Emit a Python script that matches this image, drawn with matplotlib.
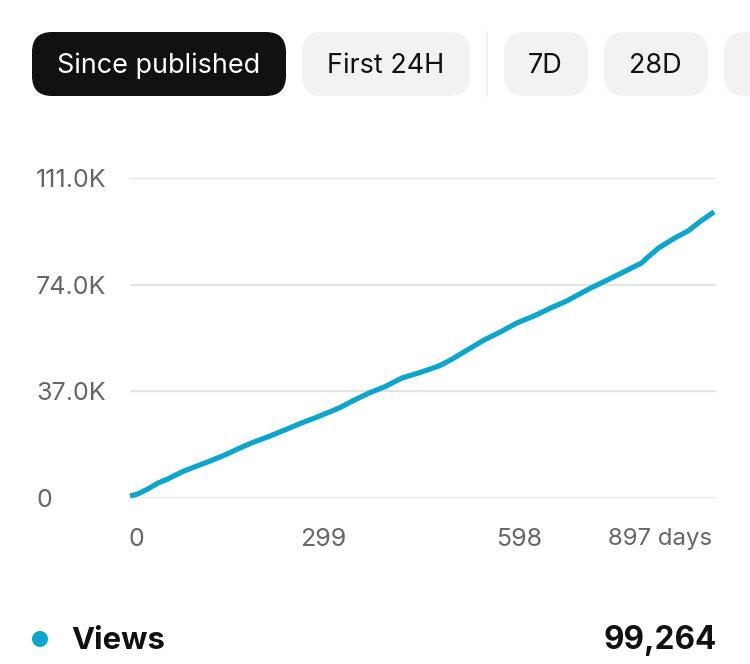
import matplotlib
matplotlib.use("Agg")
import matplotlib.pyplot as plt
from matplotlib.patches import FancyBboxPatch, Circle
from matplotlib.transforms import ScaledTranslation

# ---- data ----
days = [0, 12, 27, 43, 58, 79, 99, 119, 145, 165, 186, 211, 237, 259, 290, 320, 340, 366, 392, 416,
        442, 473, 491, 516, 542, 567, 592, 618, 644, 668, 705, 728, 752, 783, 793, 809, 834, 854, 874, 894]
views_k = [0.7, 1.4, 3.1, 5.2, 6.6, 9.0, 10.8, 12.5, 14.9, 17.0, 19.1, 21.2, 23.6, 25.7, 28.4, 31.2, 33.6, 36.4, 38.8, 41.6,
           43.4, 45.8, 47.9, 51.3, 54.8, 57.6, 60.7, 63.1, 65.9, 68.3, 72.8, 75.3, 78.0, 81.5, 83.6, 86.7, 90.2, 92.6, 96.1, 99.264]
y_ticks = [0, 37, 74, 111]
y_labels = ["0", "37.0K", "74.0K", "111.0K"]
x_ticks = [0, 299, 598, 897]
x_labels = ["0", "299", "598", "897 days"]
tabs = ["Since published", "First 24H", "7D", "28D", ""]
series_name = "Views"
series_total = "99,264"

W, H = 750, 664
ACCENT = "#0ea5cc"
GREY = "#666666"
INK = "#111111"
plt.rcParams["font.family"] = ["Inter", "DejaVu Sans"]
px = 72 / 100  # points per pixel

fig = plt.figure(figsize=(W / 100, H / 100), dpi=100, facecolor="white")

# chrome layer, in pixel coordinates
bg = fig.add_axes([0, 0, 1, 1])
bg.set_xlim(0, W)
bg.set_ylim(H, 0)
bg.axis("off")

tab_boxes = [(32, 286), (302, 470), (504, 588), (604, 708), (724, 790)]
for i, (label, (x0, x1)) in enumerate(zip(tabs, tab_boxes)):
    active = i == 0
    bg.add_patch(FancyBboxPatch((x0 + 20, 52), x1 - x0 - 40, 24,
                                boxstyle="round,pad=20,rounding_size=20",
                                fc=INK if active else "#f2f2f2", ec="none", clip_on=True))
    if label:
        bg.text((x0 + x1) / 2 - 0.5, 66, label, ha="center", va="center",
                fontsize=27 * px, color="white" if active else INK)
bg.plot([487, 487], [32, 96], color="#ececec", lw=1.5 * px)

bg.add_patch(Circle((40, 639), 8, fc=ACCENT, ec="none"))
bg.text(71.5, 641, series_name, ha="left", va="center", fontsize=31 * px,
        fontweight="bold", color=INK)
bg.text(717, 641, series_total, ha="right", va="center", fontsize=31.5 * px,
        fontweight="bold", color=INK)

# plot
left, right, top, bottom = 130, 716, 178, 498
ax = fig.add_axes([left / W, 1 - bottom / H, (right - left) / W, (bottom - top) / H])
ax.patch.set_alpha(0)
ax.set_xlim(0, 894)
ax.set_ylim(0, 111)
for s in ax.spines.values():
    s.set_visible(False)
ax.set_yticks(y_ticks, y_labels)
ax.set_xticks(x_ticks, x_labels)
ax.tick_params(axis="both", length=0, labelsize=25 * px, labelcolor=GREY)
ax.tick_params(axis="y", pad=94 * px)
ax.tick_params(axis="x", pad=30 * px)
for t in ax.get_yticklabels():
    t.set_ha("left")
    t.set_clip_on(False)
xoffsets = [-1, -2.5, -2, -4]
xhas = ["left", "center", "center", "right"]
for t, dx, ha in zip(ax.get_xticklabels(), xoffsets, xhas):
    t.set_ha(ha)
    t.set_transform(t.get_transform() + ScaledTranslation(dx / 100, 0, fig.dpi_scale_trans))
    t.set_clip_on(False)
ax.get_xticklabels()[-1].set_fontsize(24 * px)
ax.grid(axis="y", color="#e4e4e4", lw=2.2 * px)
ax.set_axisbelow(True)
ax.plot(days, views_k, color=ACCENT, lw=5.2 * px, solid_capstyle="butt",
        solid_joinstyle="round", clip_on=False)

fig.savefig("out.png", dpi=100)
